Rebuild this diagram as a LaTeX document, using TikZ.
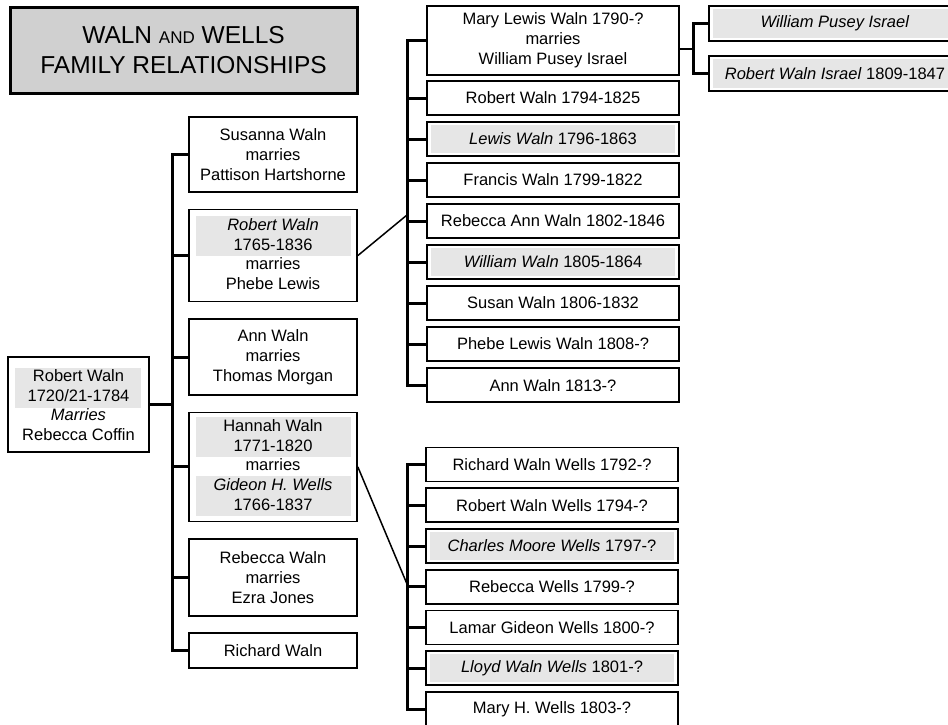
\documentclass[tikz,border=0pt]{standalone}
\usepackage{fontspec}
\setmainfont{Liberation Sans}
\usetikzlibrary{positioning}
\definecolor{titlegray}{RGB}{208,208,208}
\definecolor{namegray}{RGB}{230,230,230}
\setlength{\fboxsep}{0pt}
\newcommand{\famfont}{\fontsize{16.5}{20}\selectfont}
\newcommand{\gname}[2]{\colorbox{namegray}{\parbox[t]{#1}{\centering\strut #2\strut}}}
\tikzset{
x=1pt, y=-1pt, % pixel-like coordinates, y going down
title/.style={draw, line width=3pt, fill=titlegray, minimum width=347, minimum height=85, align=center, font=\fontsize{24.5}{30}\selectfont},
kid/.style={draw, line width=1.6pt, minimum width=168, inner sep=0pt, align=center, font=\famfont},
child/.style={draw, line width=1.6pt, minimum width=252, minimum height=34, inner sep=0pt, align=center, font=\famfont},
shaded/.style={path picture={\fill[namegray] ([shift={(4pt,-3pt)}]path picture bounding box.north west) rectangle ([shift={(-4pt,3pt)}]path picture bounding box.south east);}},
bus/.style={line width=3pt},
link/.style={line width=1.5pt},
}

\begin{document}
\begin{tikzpicture}
        \useasboundingbox (0,0) rectangle (948,725);
        \node[title] (title) at (183.5,50.5) {WALN {\fontsize{17}{20}\selectfont AND} WELLS\\FAMILY RELATIONSHIPS};
        % first generation
        \node[kid, minimum width=141, minimum height=95] (rw) at (78.5,404.5) {\gname{126pt}{Robert Waln\\1720/21-1784}\\\textit{Marries}\\Rebecca Coffin};
        % second generation
        \node[kid, minimum height=75] (sw) at (273,154.5) {Susanna Waln\\marries\\Pattison Hartshorne};
        \node[kid, minimum height=92, below=16pt of sw] (rob) {\gname{155pt}{\textit{Robert Waln}\\1765-1836}\\marries\\Phebe Lewis\strut};
        \node[kid, minimum height=76, below=16pt of rob] (aw) {Ann Waln\\marries\\Thomas Morgan};
        \node[kid, minimum height=109, below=15.5pt of aw] (hw) {\gname{155pt}{Hannah Waln\\1771-1820}\\marries\\\gname{155pt}{\textit{Gideon H. Wells}\\1766-1837}};
        \node[kid, minimum height=77, below=16pt of hw] (rbw) {Rebecca Waln\\marries\\Ezra Jones};
        \node[kid, minimum height=35, below=15.5pt of rbw] (ricw) {Richard Waln};
        % children of Robert and Phebe
        \node[child, minimum height=69] (m90) at (553,40.5) {Mary Lewis Waln 1790-?\\marries\\William Pusey Israel};
        \node[child, below=4.5pt of m90] (r94) {Robert Waln 1794-1825};
        \node[child, shaded, below=5.4pt of r94] (l96) {\textit{Lewis Waln} 1796-1863};
        \node[child, below=5.4pt of l96] (f99) {Francis Waln 1799-1822};
        \node[child, below=5.4pt of f99] (ra02) {Rebecca Ann Waln 1802-1846};
        \node[child, shaded, below=5.4pt of ra02] (w05) {\textit{William Waln} 1805-1864};
        \node[child, below=5.4pt of w05] (s06) {Susan Waln 1806-1832};
        \node[child, below=5.4pt of s06] (p08) {Phebe Lewis Waln 1808-?};
        \node[child, below=5.4pt of p08] (a13) {Ann Waln 1813-?};
        % children of Hannah and Gideon
        \node[child] (rw92) at (552,464.5) {Richard Waln Wells 1792-?};
        \node[child, below=5.15pt of rw92] (rw94) {Robert Waln Wells 1794-?};
        \node[child, shaded, below=5.15pt of rw94] (cm97) {\textit{Charles Moore Wells} 1797-?};
        \node[child, below=5.15pt of cm97] (rb99) {Rebecca Wells 1799-?};
        \node[child, below=5.15pt of rb99] (lg00) {Lamar Gideon Wells 1800-?};
        \node[child, shaded, below=5.15pt of lg00] (lw01) {\textit{Lloyd Waln Wells} 1801-?};
        \node[child, below=5.15pt of lw01] (mh03) {Mary H. Wells 1803-?};
        % Mary and William
        \node[child, shaded, minimum height=35] (wpi) at (835,23.5) {\textit{William Pusey Israel}};
        \node[child, shaded, minimum height=35] (rwi) at (835,73.5) {\textit{Robert Waln Israel} 1809-1847};
        % buses
        \coordinate (kb) at (172,0);
        \coordinate (wb) at (407,215);
        \coordinate (hb) at (407,584);
        \coordinate (ib) at (693,49);
        \draw[bus] (sw.west) -| (ricw.west -| kb) -- (ricw.west);
        \foreach \n in {rob,aw,hw,rbw} \draw[bus] (\n.west) -- (\n.west -| kb);
        \draw[bus] (rw.east) -- (rw.east -| kb);
        \draw[bus] (m90.west) -| (a13.west -| wb) -- (a13.west);
        \foreach \n in {r94,l96,f99,ra02,w05,s06,p08} \draw[bus] (\n.west) -- (\n.west -| wb);
        \draw[bus] (rw92.west) -| (mh03.west -| hb) -- (mh03.west);
        \foreach \n in {rw94,cm97,rb99,lg00,lw01} \draw[bus] (\n.west) -- (\n.west -| hb);
        \draw[bus] (wpi.west) -| (rwi.west -| ib) -- (rwi.west);
        \draw[link] (rob.east) -- (wb);
        \draw[link] (hw.east) -- (hb);
        \draw[link] (m90.east |- ib) -- (ib);
\end{tikzpicture}
\end{document}
